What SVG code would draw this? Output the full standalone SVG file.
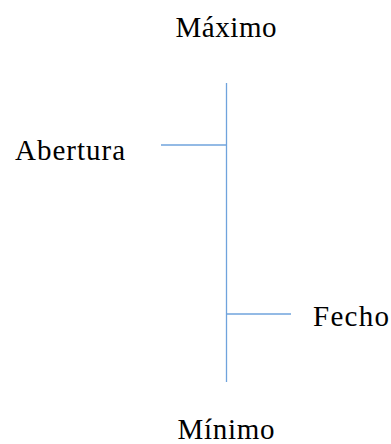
<svg xmlns="http://www.w3.org/2000/svg" width="391" height="444" viewBox="0 0 391 444">
<style>
.lbl{font-family:"Liberation Serif",serif;font-size:29px;fill:#000}
.ln{stroke:#6fa3dc;stroke-width:1.3;fill:none}
</style>
<rect width="391" height="444" fill="#fff"/>
<g id="connectors">
<line class="ln" x1="226.5" y1="83" x2="226.5" y2="382"/>
<line class="ln" x1="161" y1="145" x2="226.5" y2="145"/>
<line class="ln" x1="226.5" y1="314" x2="291" y2="314"/>
</g>
<g id="maximo"><text class="lbl" x="226" y="37" text-anchor="middle" textLength="101">Máximo</text></g>
<g id="abertura"><text class="lbl" x="15" y="160" textLength="110">Abertura</text></g>
<g id="fecho"><text class="lbl" x="313" y="326" textLength="76">Fecho</text></g>
<g id="minimo"><text class="lbl" x="226" y="439" text-anchor="middle" textLength="97">Mínimo</text></g>
</svg>
